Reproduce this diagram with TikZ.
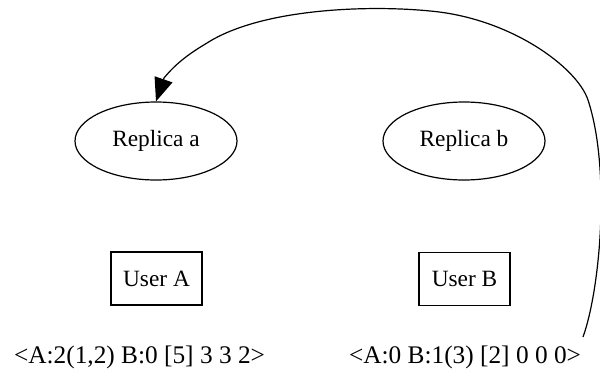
\documentclass[tikz,border=0pt]{standalone}
\usepackage{fontspec}
\setmainfont{Liberation Serif}
\usetikzlibrary{shapes.geometric,arrows.meta}
\begin{document}
\begin{tikzpicture}[x=0.75pt,y=-0.75pt,
  replica/.style={draw, line width=0.9pt, ellipse, minimum width=121.5pt, minimum height=58.5pt, inner sep=0pt, font=\fontsize{17.5}{20}\selectfont},
  userbox/.style={draw, line width=0.9pt, rectangle, minimum width=68.25pt, minimum height=39.75pt, inner sep=0pt, font=\fontsize{17.5}{20}\selectfont},
  statelbl/.style={anchor=base, inner sep=0pt, font=\fontsize{19}{22}\selectfont},
  link/.style={line width=0.9pt, -{Triangle[length=17.5pt, width=14pt]}}]
\useasboundingbox (0,0) rectangle (600,371);
\node[replica] (ra) at (156,141) {Replica a};
\node[replica] (rb) at (464,141) {Replica b};
\node[userbox] (ua) at (156.5,278.5) {User A};
\node[userbox] (ub) at (464.5,279) {User B};
\node[statelbl] (la) at (139.5,363) {<A:2(1,2) B:0 [5] 3 3 2>};
\node[statelbl] (lb) at (465,363) {<A:0 B:1(3) [2] 0 0 0>};
\coordinate (s) at (583,337);
\coordinate (c1) at (588,100);
\coordinate (c2) at (430,11);
\coordinate (c3) at (207,43);
\coordinate (c4) at (164,78);
\draw[link] (s) .. controls (600,290) and (611,170) .. (c1)
  .. controls (577,67) and (510,18) .. (c2)
  .. controls (370,5) and (262,8) .. (c3)
  .. controls (192,52) and (177,62) .. (c4)
  -- (ra.north);
\end{tikzpicture}
\end{document}
